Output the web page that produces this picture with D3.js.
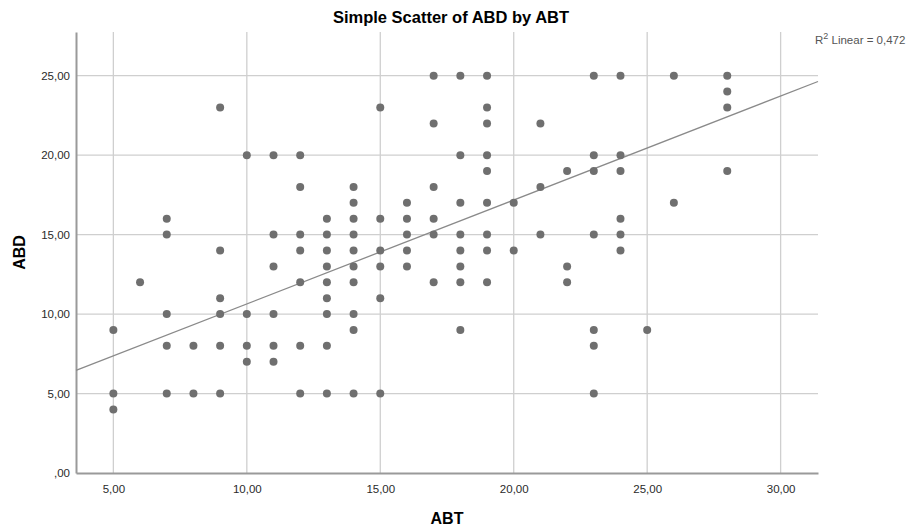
<!DOCTYPE html>
<html>
<head>
<meta charset="utf-8">
<script src="https://cdnjs.cloudflare.com/ajax/libs/d3/7.8.5/d3.min.js"></script>
<style>
  body { margin: 0; background: #fff; }
  text { font-family: "Liberation Sans", Arial, sans-serif; }
</style>
</head>
<body>
<div id="chart"></div>
<script>
// values, one entry per point
const abt = [
  5, 5, 5,
  6,
  7, 7, 7, 7, 7,
  8, 8,
  9, 9, 9, 9, 9, 9,
  10, 10, 10, 10,
  11, 11, 11, 11, 11, 11,
  12, 12, 12, 12, 12, 12, 12,
  13, 13, 13, 13, 13, 13, 13, 13, 13,
  14, 14, 14, 14, 14, 14, 14, 14, 14, 14,
  15, 15, 15, 15, 15, 15,
  16, 16, 16, 16, 16,
  17, 17, 17, 17, 17, 17,
  18, 18, 18, 18, 18, 18, 18, 18,
  19, 19, 19, 19, 19, 19, 19, 19, 19,
  20, 20,
  21, 21, 21,
  22, 22, 22,
  23, 23, 23, 23, 23, 23, 23,
  24, 24, 24, 24, 24, 24,
  25,
  26, 26,
  28, 28, 28, 28
]
const abd = [
  9, 5, 4,
  12,
  16, 15, 10, 8, 5,
  8, 5,
  23, 14, 11, 10, 8, 5,
  20, 10, 8, 7,
  20, 15, 13, 10, 8, 7,
  20, 18, 15, 14, 12, 8, 5,
  16, 15, 14, 13, 12, 11, 10, 8, 5,
  18, 17, 16, 15, 14, 13, 12, 10, 9, 5,
  23, 16, 14, 13, 11, 5,
  17, 16, 15, 14, 13,
  25, 22, 18, 16, 15, 12,
  25, 20, 17, 15, 14, 13, 12, 9,
  25, 23, 22, 20, 19, 17, 15, 14, 12,
  17, 14,
  22, 18, 15,
  19, 13, 12,
  25, 20, 19, 15, 9, 8, 5,
  25, 20, 19, 16, 15, 14,
  9,
  25, 17,
  25, 24, 23, 19
]

const xTicks = [5, 10, 15, 20, 25, 30]
const yTicks = [0, 5, 10, 15, 20, 25]

// fit line as printed by SPSS
const fitIntercept = 4.1
const fitSlope = 0.654
const rSquared = "0,472"

const width = 911
const height = 527
const margin = {top: 32, right: 93, bottom: 54, left: 76}

const fmt = v => v === 0 ? ",00" : d3.format(".2f")(v).replace(".", ",")

const svg = d3.select("#chart")
              .append("svg")
              .attr("width", width)
              .attr("height", height)

const x = d3.scaleLinear()
            .domain([3.6, 31.4])
            .range([margin.left, width - margin.right])

const y = d3.scaleLinear()
            .domain([0, 27.75])
            .range([height - margin.bottom, margin.top])

// grid
svg.append("g")
   .selectAll("line")
   .data(xTicks)
   .enter()
   .append("line")
   .attr("x1", d => x(d))
   .attr("x2", d => x(d))
   .attr("y1", y.range()[1])
   .attr("y2", y.range()[0])
   .attr("stroke", "#cfcfcf")
   .attr("stroke-width", 1.3)

svg.append("g")
   .selectAll("line")
   .data(yTicks.filter(d => d > 0))
   .enter()
   .append("line")
   .attr("x1", x.range()[0])
   .attr("x2", x.range()[1])
   .attr("y1", d => y(d))
   .attr("y2", d => y(d))
   .attr("stroke", "#cfcfcf")
   .attr("stroke-width", 1.3)

// axes
const xAxis = svg.append("g")
   .attr("transform", `translate(0,${y(0)})`)
   .call(d3.axisBottom(x).tickValues(xTicks).tickFormat(fmt).tickSize(0).tickPadding(12))

const yAxis = svg.append("g")
   .attr("transform", `translate(${x.range()[0]},0)`)
   .call(d3.axisLeft(y).tickValues(yTicks).tickFormat(fmt).tickSize(0).tickPadding(6))

for (const ax of [xAxis, yAxis]) {
  ax.select(".domain").attr("stroke", "#9a9a9a").attr("stroke-width", 2)
  ax.selectAll("text")
    .attr("font-family", "Liberation Sans, Arial, sans-serif")
    .attr("font-size", "11.5px")
    .attr("fill", "#2a2a2a")
}

// fit line
svg.append("line")
   .attr("x1", x(x.domain()[0]))
   .attr("y1", y(fitIntercept + fitSlope * x.domain()[0]))
   .attr("x2", x(x.domain()[1]))
   .attr("y2", y(fitIntercept + fitSlope * x.domain()[1]))
   .attr("stroke", "#8a8a8a")
   .attr("stroke-width", 1.3)

// points
svg.append("g")
   .selectAll("circle")
   .data(abt.map((v, i) => ({abt: v, abd: abd[i]})))
   .enter()
   .append("circle")
   .attr("cx", d => x(d.abt))
   .attr("cy", d => y(d.abd))
   .attr("r", 4)
   .attr("fill", "#6f6f6f")

// texts
svg.append("text")
   .attr("x", (x.range()[0] + x.range()[1]) / 2 + 4)
   .attr("y", 23)
   .attr("text-anchor", "middle")
   .attr("font-size", "16.5px")
   .attr("font-weight", "bold")
   .text("Simple Scatter of ABD by ABT")

svg.append("text")
   .attr("x", (x.range()[0] + x.range()[1]) / 2)
   .attr("y", 524)
   .attr("text-anchor", "middle")
   .attr("font-size", "16px")
   .attr("font-weight", "bold")
   .text("ABT")

svg.append("text")
   .attr("transform", `translate(25,${(y.range()[0] + y.range()[1]) / 2}) rotate(-90)`)
   .attr("text-anchor", "middle")
   .attr("font-size", "16px")
   .attr("font-weight", "bold")
   .text("ABD")

const r2 = svg.append("text")
   .attr("x", 815)
   .attr("y", 44)
   .attr("font-size", "11.5px")
   .attr("fill", "#555")
r2.append("tspan").text("R")
r2.append("tspan").attr("dy", -5).attr("font-size", "9px").text("2")
r2.append("tspan").attr("dy", 5).text(" Linear = " + rSquared)
</script>
</body>
</html>
